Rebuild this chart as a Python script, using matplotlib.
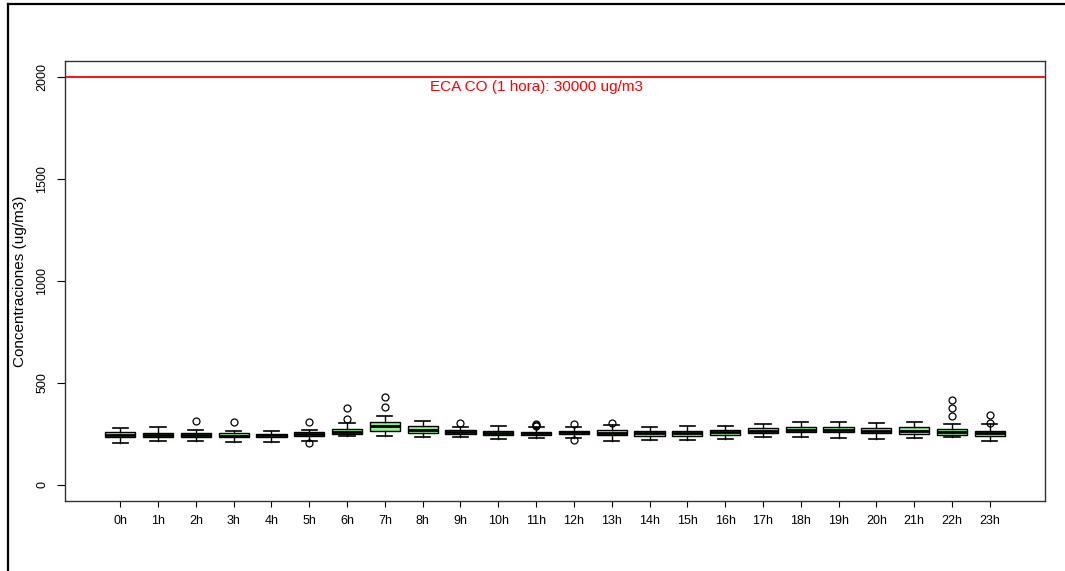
import matplotlib
matplotlib.use("Agg")
import matplotlib.pyplot as plt
from matplotlib.lines import Line2D

plt.rcParams['font.family'] = ['Liberation Sans', 'DejaVu Sans']

hours = ['%dh' % h for h in range(24)]
whislo = [203, 217, 217, 212, 210, 213, 240, 241, 233, 232, 225, 228,
          228, 217, 220, 218, 223, 235, 233, 228, 222, 228, 236, 217]
q1 = [233, 232, 233, 232, 232, 238, 248, 264, 256, 250, 245, 243,
      248, 243, 241, 240, 245, 255, 258, 260, 253, 251, 246, 241]
med = [246, 245, 243, 241, 243, 250, 261, 286, 271, 261, 256, 253,
       258, 256, 253, 253, 258, 266, 271, 271, 266, 264, 261, 255]
q3 = [261, 256, 253, 255, 251, 261, 274, 310, 287, 271, 266, 261,
      266, 269, 264, 266, 269, 277, 284, 284, 277, 281, 272, 264]
whishi = [279, 282, 269, 264, 266, 271, 305, 335, 312, 281, 289, 281,
          282, 294, 282, 287, 287, 299, 307, 309, 302, 307, 297, 297]
fliers = [[], [], [314], [310], [], [310, 205], [376, 325], [430, 381],
          [], [304], [], [290, 294, 298], [296, 218], [305], [], [],
          [], [], [], [], [], [], [417, 378, 336], [341, 304]]

eca_value = 2000
eca_label = 'ECA CO (1 hora): 30000 ug/m3'

stats = []
for i in range(24):
    stats.append(dict(label=hours[i], whislo=whislo[i], q1=q1[i], med=med[i],
                      q3=q3[i], whishi=whishi[i], fliers=fliers[i]))

fig = plt.figure(figsize=(10.65, 5.71), dpi=100)
ax = fig.add_axes([65 / 1065, 70 / 571, 980 / 1065, 440 / 571])

ax.bxp(stats, positions=range(1, 25), widths=0.8, patch_artist=True,
       boxprops=dict(facecolor='#90EE90', edgecolor='black', linewidth=1),
       medianprops=dict(color='black', linewidth=2),
       whiskerprops=dict(color='black', linewidth=1),
       capprops=dict(color='black', linewidth=1.2),
       capwidths=0.4,
       flierprops=dict(marker='o', markerfacecolor='none', markeredgecolor='black',
                       markersize=5, markeredgewidth=0.9))

ax.axhline(eca_value, color='red', linewidth=1.3)
ax.text(12, eca_value - 15, eca_label, color='red', fontsize=11,
        ha='center', va='top')

ax.set_xlim(-0.46, 25.46)
ax.set_ylim(-80, 2080)
ax.set_yticks([0, 500, 1000, 1500, 2000])
ax.set_yticklabels(['0', '500', '1000', '1500', '2000'], rotation=90, va='center')
ax.set_xticks(range(1, 25))
ax.set_xticklabels(hours)
ax.tick_params(axis='both', labelsize=9, length=6, width=0.8, pad=6)
ax.tick_params(axis='x', length=4)
ax.set_ylabel('Concentraciones (ug/m3)', fontsize=11, labelpad=7)
for s in ax.spines.values():
    s.set_linewidth(1)
    s.set_color('#333333')

# outer frame
fig.add_artist(Line2D([7.5 / 1065, 7.5 / 1065], [0, 1 - 3.5 / 571],
                      transform=fig.transFigure, color='black', linewidth=1.6))
fig.add_artist(Line2D([7.5 / 1065, 1], [1 - 3.5 / 571, 1 - 3.5 / 571],
                      transform=fig.transFigure, color='black', linewidth=1.6))

fig.savefig('out.png', dpi=100)
